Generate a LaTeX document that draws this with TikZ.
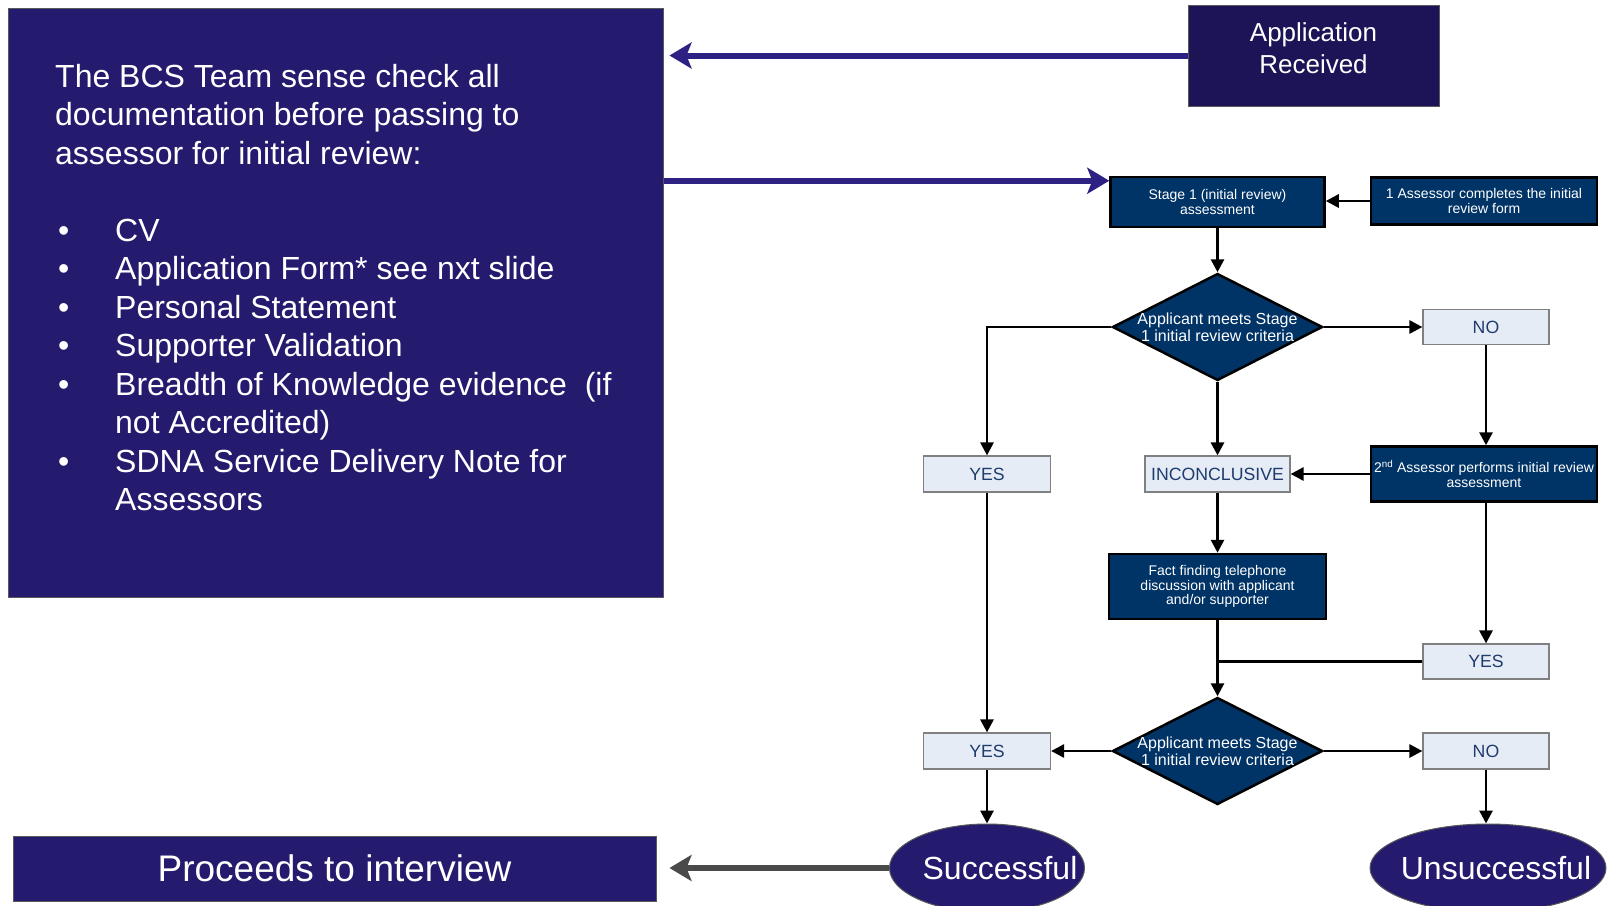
\documentclass[tikz,border=0pt]{standalone}
\usepackage{fontspec}
\setmainfont{Liberation Sans}
\usetikzlibrary{arrows.meta,shapes.geometric,calc}
\definecolor{indigo}{HTML}{241A6E}
\definecolor{indigoD}{HTML}{1C1456}
\definecolor{navy}{HTML}{003366}
\definecolor{pale}{HTML}{E6ECF6}
\definecolor{paletext}{HTML}{1F3C6E}
\definecolor{arrowpurple}{HTML}{2E2184}
\definecolor{arrowgray}{HTML}{4A4A4A}
\definecolor{edgegray}{HTML}{595959}
\newcommand{\blt}{\hspace*{3pt}\makebox[57pt][l]{•}}
\newcommand{\contind}{\hspace*{60pt}}
\begin{document}
\begin{tikzpicture}[x=1pt,y=-1pt,
 bigbox/.style={draw=edgegray, line width=1pt, fill=indigo, text=white, inner sep=0pt},
 darkbox/.style={draw=black, line width=2.5pt, fill=navy, text=white, font=\fontsize{14}{14.8}\selectfont, align=center, inner sep=0pt},
 palebox/.style={draw=gray, line width=1.2pt, fill=pale, text=paletext, font=\fontsize{17.7}{20}\selectfont, inner sep=0pt},
 decision/.style={diamond, draw=black, line width=2.5pt, fill=navy, inner sep=0pt, minimum width=210pt, minimum height=107pt},
 dtext/.style={text=white, font=\fontsize{16}{16.8}\selectfont, align=center, inner sep=0pt},
 oval/.style={ellipse, draw=edgegray, line width=1pt, fill=indigo, inner sep=0pt},
 ovaltext/.style={text=white, font=\fontsize{32}{36}\selectfont, inner sep=0pt},
 flow/.style={line width=2.8pt, -{Triangle[length=13pt,width=13pt]}},
 plainline/.style={line width=2.8pt},
 bigarrow/.style={line width=6pt, draw=arrowpurple, -{Stealth[length=22pt,width=26pt,inset=5pt]}},
 grayarrow/.style={line width=6pt, draw=arrowgray, -{Stealth[length=22pt,width=26pt,inset=5pt]}}
]
\useasboundingbox (0,0) rectangle (1614,905);
\clip (0,0) rectangle (1614,905);

% left panel
\node[bigbox, minimum width=655pt, minimum height=589pt] (big) at (335.5,302.5) {};
\node[anchor=north west, text=white, align=left, inner sep=0pt, font=\fontsize{32}{38.5}\selectfont] (bigtext) at (55,64)
{The BCS Team sense check all\\documentation before passing to\\assessor for initial review:\\[38.5pt]
\blt CV\\
\blt Application Form* see nxt slide\\
\blt Personal Statement\\
\blt Supporter Validation\\
\blt Breadth of Knowledge evidence\ \ (if\\
\contind not Accredited)\\
\blt SDNA Service Delivery Note for\\
\contind Assessors};

\node[bigbox, fill=indigoD, minimum width=251pt, minimum height=101pt] (apprec) at (1313.5,55.5) {};
\node[text=white, align=center, inner sep=0pt, font=\fontsize{26}{32}\selectfont] (apprect) at ($(apprec.center)+(0,-7)$) {Application\\Received};

\node[bigbox, fill=indigo, minimum width=643pt, minimum height=65pt, font=\fontsize{37}{40}\selectfont] (proceeds) at (334.5,868.5) {Proceeds to interview};

% flowchart
\node[darkbox, minimum width=214pt, minimum height=50pt] (stage1) at (1217.5,202) {Stage 1 (initial review)\\assessment};
\node[darkbox, minimum width=226pt, minimum height=47pt] (assess1) at (1484,201) {1 Assessor completes the initial\\review form};

\node[decision] (d1) at (1217.5,327) {};
\node[dtext] (d1t) at (d1.center) {Applicant meets Stage\\1 initial review criteria};

\node[palebox, minimum width=126pt, minimum height=35pt] (no1) at (1486,327) {NO};
\node[palebox, minimum width=127pt, minimum height=36pt] (yes1) at (987,474) {YES};
\node[palebox, minimum width=145pt, minimum height=36pt] (inc) at (1217.5,474) {INCONCLUSIVE};
\node[darkbox, minimum width=226pt, minimum height=55pt] (assess2) at (1484,474) {2\textsuperscript{nd} Assessor performs initial review\\assessment};

\node[darkbox, minimum width=217pt, minimum height=65pt] (fact) at (1217.5,586.5) {Fact finding telephone\\discussion with applicant\\and/or supporter};

\node[palebox, minimum width=126pt, minimum height=35pt] (yes2) at (1486,661.5) {YES};

\node[decision] (d2) at (1217.5,751) {};
\node[dtext] (d2t) at (d2.center) {Applicant meets Stage\\1 initial review criteria};

\node[palebox, minimum width=127pt, minimum height=36pt] (yes3) at (987,751) {YES};
\node[palebox, minimum width=126pt, minimum height=36pt] (no3) at (1486,751) {NO};

\node[oval, minimum width=195pt, minimum height=88pt] (succ) at (987,868) {};
\node[ovaltext] (succt) at ($(succ.center)+(13,0)$) {Successful};
\node[oval, minimum width=236pt, minimum height=88pt] (unsucc) at (1488,868) {};
\node[ovaltext] (unsucct) at ($(unsucc.center)+(8,0)$) {Unsuccessful};

% connectors
\coordinate (in1) at ($(stage1.north west)+(0,5)$);
\draw[bigarrow, shorten >=6pt] (apprec.west) -- (apprec.west -| big.east);
\draw[bigarrow] (big.east |- in1) -- (in1);
\draw[grayarrow, shorten >=13pt] (succ.west) -- (succ.west -| proceeds.east);

\draw[flow] (stage1.south) -- (d1.north);
\draw[flow] (assess1.west) -- (assess1.west -| stage1.east);
\draw[flow] (d1.west) -| (yes1.north);
\draw[flow] (d1.east) -- (no1.west);
\draw[flow] (d1.south) -- (inc.north);
\draw[flow] (no1.south) -- (no1.south |- assess2.north);
\draw[flow] (assess2.west) -- (inc.east);
\draw[flow] (inc.south) -- (fact.north);
\draw[flow] (yes2.north |- assess2.south) -- (yes2.north);
\draw[flow] (fact.south) -- (d2.north);
\draw[plainline] (yes2.west) -- (yes2.west -| fact.south);
\draw[flow] (yes1.south) -- (yes3.north);
\draw[flow] (d2.west) -- (yes3.east);
\draw[flow] (d2.east) -- (no3.west);
\draw[flow] (yes3.south) -- (succ.north);
\draw[flow] (no3.south) -- (no3.south |- unsucc.north);
\end{tikzpicture}
\end{document}
